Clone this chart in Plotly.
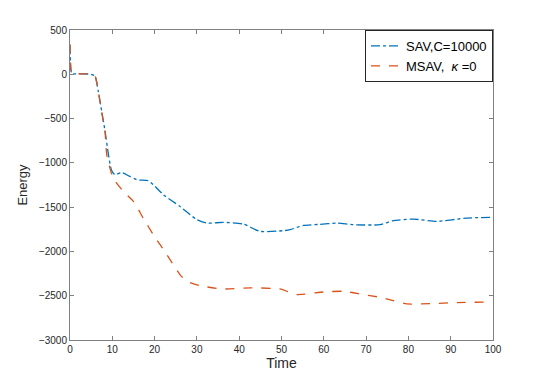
import plotly.graph_objects as go

# SAV, C=10000
sav_t = [0, 0.4, 1, 3, 5, 5.9, 6.7, 7.5, 8.3, 9.1, 9.8, 10.6, 12.2, 14, 15.8, 18.5,
         19.7, 22.1, 26, 30, 32.3, 36.2, 41, 44.9, 50.4, 52, 55.2, 59, 63, 67,
         73.3, 76.4, 81.2, 86.7, 93.8, 100]
sav_e = [330, 10, 5, 5, 0, -20, -195, -420, -646, -909, -1080, -1134, -1110, -1150,
         -1191, -1202, -1247, -1360, -1492, -1642, -1680, -1672, -1691, -1773,
         -1766, -1755, -1706, -1695, -1680, -1698, -1698, -1653, -1635, -1661,
         -1623, -1616]

# MSAV, kappa=0
msav_t = [0, 0.4, 1, 3, 5, 5.9, 6.7, 7.5, 8.3, 8.7, 10.2, 12.6, 15, 17.3, 19.7,
          22.9, 26, 27.6, 30.7, 36.2, 42.6, 49.6, 53.6, 59.9, 64.6, 69.3, 73.3,
          76.4, 79.6, 85.1, 91.4, 100]
msav_e = [340, 10, 5, 5, 0, -20, -195, -430, -660, -909, -1172, -1322, -1435,
          -1623, -1811, -2036, -2262, -2337, -2386, -2424, -2412, -2424, -2487,
          -2458, -2450, -2487, -2518, -2555, -2593, -2589, -2578, -2570]

x_ticks = list(range(0, 101, 10))
y_ticks = list(range(-3000, 501, 500))

fig = go.Figure()
fig.add_trace(go.Scatter(
    x=sav_t, y=sav_e, mode="lines", name="SAV,C=10000",
    line=dict(color="#0072BD", width=1.3, dash="dashdot", shape="spline", smoothing=0.6),
))
fig.add_trace(go.Scatter(
    x=msav_t, y=msav_e, mode="lines", name="MSAV,  <i>κ</i> =0",
    line=dict(color="#D95319", width=1.3, dash="dash", shape="spline", smoothing=0.6),
))

axis_common = dict(
    showgrid=False, zeroline=False, showline=True, linecolor="#808080", linewidth=1,
    mirror="ticks", ticks="inside", ticklen=4, tickcolor="#808080",
    tickfont=dict(size=10, color="#262626"),
)

# page renders offset by ~8px, margins compensate
fig.update_layout(
    width=545, height=382,
    margin=dict(l=62, r=60, t=22, b=50),
    paper_bgcolor="white", plot_bgcolor="white",
    font=dict(family="Liberation Sans, Arial, sans-serif", color="#262626"),
    showlegend=True,
    legend=dict(
        x=1, y=1, xanchor="right", yanchor="top",
        bgcolor="white", bordercolor="#262626", borderwidth=1,
        font=dict(size=13, color="black"), tracegroupgap=0,
        itemwidth=30,
    ),
    xaxis=dict(range=[0, 100], tickvals=x_ticks,
               title=dict(text="Time", font=dict(size=14), standoff=4), **axis_common),
    yaxis=dict(range=[-3000, 500], tickvals=y_ticks,
               title=dict(text="Energy", font=dict(size=13), standoff=8), **axis_common),
)

fig.write_html("out.html")
